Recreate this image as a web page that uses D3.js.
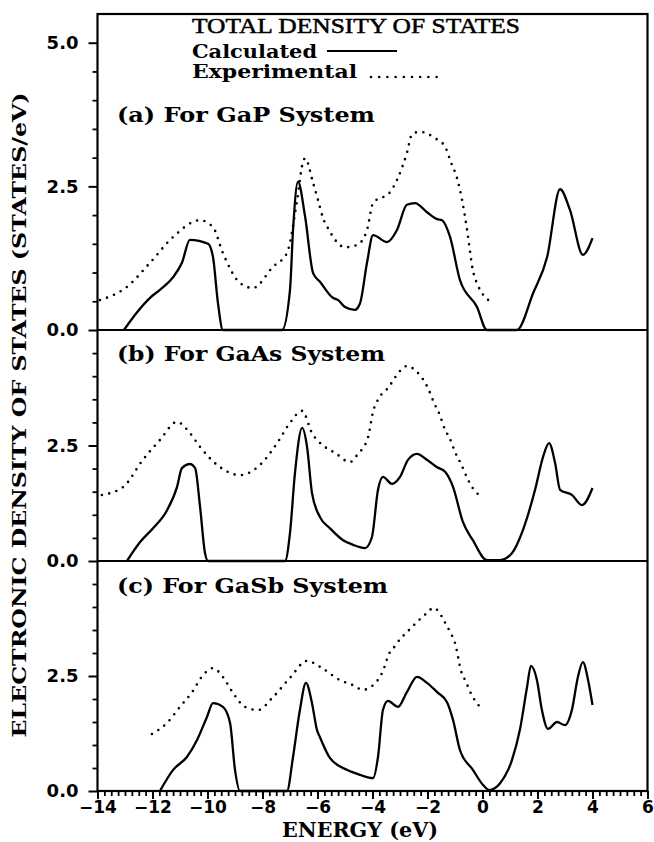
<!DOCTYPE html>
<html><head><meta charset="utf-8">
<script src="https://cdn.jsdelivr.net/npm/d3@7/dist/d3.min.js"></script>
<style>body{margin:0;background:#fff}svg{display:block}</style>
</head><body>
<svg id="chart" width="654" height="842"></svg>
<script>
// ---------------- DATA ----------------
const panelLabels = ["(a) For GaP System", "(b) For GaAs System", "(c) For GaSb System"];
const titleText = "TOTAL DENSITY OF STATES";
const legendCalc = "Calculated";
const legendExp = "Experimental";
const xTitle = "ENERGY (eV)";
const yTitle = "ELECTRONIC DENSITY OF STATES (STATES/eV)";
const xMajorTicks = [-14, -12, -10, -8, -6, -4, -2, 0, 2, 4, 6];
const yTicksA = [0, 2.5, 5.0];
const yTicksBC = [0, 2.5];

// GaP  [energy eV, DOS states/eV]
const gapCalc = [[-13.04,0],[-12.56,0.31],[-12.09,0.56],[-11.73,0.70],[-11.25,0.92],[-10.93,1.17],[-10.64,1.57],
  [-9.98,1.50],[-9.80,1.27],[-9.62,0.47],[-9.44,0],[-7.29,0],[-7.0,0.70],[-6.89,1.74],[-6.71,2.58],[-6.45,1.97],
  [-6.16,0.99],[-5.91,0.84],[-5.44,0.56],[-5.25,0.52],[-5.0,0.40],[-4.64,0.35],[-4.45,0.47],[-4.2,1.17],
  [-3.98,1.65],[-3.47,1.53],[-3.11,1.74],[-2.75,2.18],[-2.45,2.21],[-2.02,2.05],[-1.65,1.93],[-1.47,1.91],
  [-1.18,1.62],[-0.82,0.87],[-0.2,0.40],[0.16,0],[1.25,0],[1.84,0.64],[2.35,1.27],[2.82,2.45],[3.18,2.09],
  [3.65,1.31],[4.0,1.60]];
const gapExp = [[-13.91,0.52],[-12.93,0.75],[-12.09,1.17],[-11.25,1.62],[-10.27,1.91],[-9.80,1.79],[-9.44,1.34],
  [-8.82,0.82],[-8.35,0.73],[-7.62,1.10],[-7.11,1.34],[-6.75,2.23],[-6.53,2.92],[-6.45,2.99],[-6.16,2.56],
  [-5.98,2.26],[-5.8,1.95],[-5.58,1.74],[-5.36,1.57],[-5.0,1.44],[-4.56,1.48],[-4.2,1.74],[-3.98,2.21],
  [-3.36,2.40],[-3.11,2.61],[-2.75,3.08],[-2.56,3.41],[-2.27,3.45],[-1.73,3.34],[-1.36,3.19],[-1.15,2.92],
  [-0.93,2.65],[-0.75,2.28],[-0.56,1.74],[-0.35,1.04],[-0.16,0.77],[0.38,0.47]];

// GaAs
const gaasCalc = [[-12.93,0],[-12.45,0.41],[-11.98,0.71],[-11.47,1.10],[-11.11,1.60],[-10.93,2.01],[-10.64,2.10],
  [-10.45,2.01],[-10.27,1.17],[-10.09,0.17],[-9.98,0],[-7.18,0],[-7.0,0.61],[-6.82,1.90],[-6.56,2.88],[-6.38,2.47],
  [-6.2,1.47],[-5.91,0.95],[-5.55,0.71],[-5.07,0.45],[-4.71,0.35],[-4.27,0.28],[-4.02,0.52],[-3.8,1.54],
  [-3.62,1.82],[-3.29,1.67],[-3.0,1.82],[-2.71,2.19],[-2.38,2.32],[-2.02,2.19],[-1.65,2.03],[-1.36,1.93],
  [-1.07,1.60],[-0.71,0.84],[-0.35,0.45],[0.16,0.02],[0.64,0.02],[1.07,0.17],[1.47,0.67],[1.91,1.54],[2.2,2.25],
  [2.42,2.55],[2.64,2.12],[2.82,1.54],[3.25,1.43],[3.62,1.21],[4.0,1.58]];
const gaasExp = [[-13.84,1.43],[-13.07,1.60],[-12.35,2.19],[-11.73,2.62],[-11.11,3.01],[-10.64,2.77],[-10.27,2.47],
  [-9.65,2.08],[-8.82,1.86],[-8.09,2.08],[-7.47,2.55],[-7.0,2.99],[-6.56,3.25],[-6.2,2.77],[-5.73,2.47],
  [-5.36,2.34],[-4.82,2.14],[-4.56,2.29],[-4.38,2.42],[-4.16,2.68],[-3.98,3.23],[-3.76,3.53],[-3.4,3.77],
  [-3.15,4.0],[-2.75,4.22],[-2.38,4.09],[-1.98,3.74],[-1.76,3.42],[-1.58,3.2],[-1.36,2.84],[-1.18,2.64],
  [-1.0,2.36],[-0.78,2.10],[-0.56,1.80],[-0.38,1.60],[-0.2,1.47],[0.02,1.36]];

// GaSb
const gasbCalc = [[-11.73,0],[-11.25,0.46],[-10.75,0.74],[-10.38,1.11],[-10.02,1.61],[-9.8,1.91],[-9.44,1.83],
  [-9.18,1.48],[-9.0,0.46],[-8.82,0],[-7.11,0],[-6.89,0.74],[-6.64,1.76],[-6.42,2.35],[-6.2,1.91],[-6.02,1.33],
  [-5.91,1.17],[-5.55,0.72],[-4.93,0.46],[-4.45,0.35],[-3.98,0.28],[-3.8,0.74],[-3.62,1.76],[-3.44,1.96],
  [-3.07,1.83],[-2.75,2.15],[-2.38,2.48],[-2.02,2.35],[-1.65,2.15],[-1.29,1.93],[-1.07,1.54],[-0.82,0.89],
  [-0.35,0.46],[0.02,0.13],[0.24,0.02],[0.64,0.17],[1.07,0.67],[1.36,1.33],[1.62,2.26],[1.76,2.72],[1.98,2.41],
  [2.16,1.76],[2.38,1.35],[2.71,1.50],[3.0,1.43],[3.25,1.76],[3.47,2.48],[3.65,2.80],[3.84,2.41],[4.0,1.87]];
const gasbExp = [[-12.02,1.24],[-11.47,1.48],[-11.0,1.83],[-10.56,2.15],[-10.16,2.52],[-9.8,2.67],[-9.44,2.48],
  [-9.07,2.13],[-8.64,1.83],[-8.16,1.76],[-7.62,2.04],[-7.0,2.46],[-6.38,2.83],[-5.91,2.70],[-5.18,2.41],
  [-4.71,2.30],[-4.35,2.20],[-3.98,2.30],[-3.62,2.61],[-3.4,2.98],[-3.18,3.15],[-2.96,3.33],[-2.78,3.43],
  [-2.56,3.57],[-2.38,3.67],[-2.2,3.78],[-1.98,3.89],[-1.8,3.98],[-1.58,3.89],[-1.4,3.70],[-1.18,3.46],
  [-1.0,3.22],[-0.78,2.61],[-0.6,2.37],[-0.38,2.07],[-0.2,1.91],[0.02,1.74]];

// ---------------- LAYOUT ----------------
const svg = d3.select("#chart");
const L = 97.5, R = 647.5;
const x = d3.scaleLinear().domain([-14, 6]).range([L, R]);
const panels = [
  {top: 14,  bottom: 330, max: 5.5, calc: gapCalc,  exp: gapExp,  ticks: yTicksA,  labelY: 122},
  {top: 330, bottom: 561, max: 5.0, calc: gaasCalc, exp: gaasExp, ticks: yTicksBC, labelY: 361},
  {top: 561, bottom: 791, max: 5.0, calc: gasbCalc, exp: gasbExp, ticks: yTicksBC, labelY: 593}
];
const labelLens = [258, 268, 271];
const serif = "'DejaVu Serif', 'Liberation Serif', serif";
const sans = "'DejaVu Sans', 'Liberation Sans', sans-serif";

panels.forEach((p, i) => {
  const y = d3.scaleLinear().domain([0, p.max]).range([p.bottom, p.top]);
  const minor = d3.range(0.5, p.max - 0.01, 0.5).filter(v => !p.ticks.includes(v));
  const gMin = svg.append("g").attr("transform", `translate(${L},0)`)
    .call(d3.axisLeft(y).tickValues(minor).tickSize(5).tickFormat(""));
  gMin.select(".domain").remove();
  gMin.selectAll("line").attr("stroke", "#000").attr("stroke-width", 1.8);
  const gMaj = svg.append("g").attr("transform", `translate(${L},0)`)
    .call(d3.axisLeft(y).tickValues(p.ticks).tickSize(9).tickPadding(10).tickFormat(d3.format(".1f")));
  gMaj.select(".domain").remove();
  gMaj.selectAll("line").attr("stroke", "#000").attr("stroke-width", 2);
  gMaj.selectAll("text").attr("font-family", sans).attr("font-weight", "bold")
    .attr("font-size", 18).attr("fill", "#000");

  const line = d3.line().x(d => x(d[0])).y(d => y(d[1])).curve(d3.curveMonotoneX);
  svg.append("path").datum(p.exp).attr("d", line).attr("fill", "none")
    .attr("stroke", "#000").attr("stroke-width", 2.6).attr("stroke-linecap", "round")
    .attr("stroke-dasharray", "0 7.5");
  svg.append("path").datum(p.calc).attr("d", line).attr("fill", "none")
    .attr("stroke", "#000").attr("stroke-width", 2.3).attr("stroke-linejoin", "round");

  svg.append("text").attr("x", 117).attr("y", p.labelY).text(panelLabels[i])
    .attr("font-family", serif).attr("font-weight", "bold").attr("font-size", 20)
    .attr("textLength", labelLens[i]).attr("lengthAdjust", "spacingAndGlyphs");

  svg.append("line").attr("x1", L).attr("x2", R).attr("y1", y(0)).attr("y2", y(0))
    .attr("stroke", "#000").attr("stroke-width", 2.2);
});

// bottom x axis
const xMinor = d3.range(-14, 6.001, 0.25).filter(v => !xMajorTicks.includes(v));
const gxm = svg.append("g").attr("transform", "translate(0,791)")
  .call(d3.axisBottom(x).tickValues(xMinor).tickSize(5).tickFormat(""));
gxm.select(".domain").remove();
gxm.selectAll("line").attr("stroke", "#000").attr("stroke-width", 1.8);
const gx = svg.append("g").attr("transform", "translate(0,791)")
  .call(d3.axisBottom(x).tickValues(xMajorTicks).tickSize(8).tickPadding(2)
    .tickFormat(d => (d < 0 ? "\u2212" + Math.abs(d) : String(d))));
gx.select(".domain").remove();
gx.selectAll("line").attr("stroke", "#000").attr("stroke-width", 2);
gx.selectAll("text").attr("font-family", sans).attr("font-weight", "bold")
  .attr("font-size", 17).attr("fill", "#000");

// frame
svg.append("rect").attr("x", L).attr("y", 14).attr("width", R - L).attr("height", 791 - 14)
  .attr("fill", "none").attr("stroke", "#000").attr("stroke-width", 2.2);

// title and legend
svg.append("text").attr("x", 192).attr("y", 33).text(titleText)
  .attr("font-family", "'Liberation Serif', serif").attr("font-size", 22)
  .attr("stroke", "#000").attr("stroke-width", 0.5)
  .attr("textLength", 328).attr("lengthAdjust", "spacingAndGlyphs");
svg.append("text").attr("x", 192).attr("y", 58).text(legendCalc)
  .attr("font-family", serif).attr("font-weight", "bold").attr("font-size", 19)
  .attr("textLength", 125).attr("lengthAdjust", "spacingAndGlyphs");
svg.append("text").attr("x", 192).attr("y", 78).text(legendExp)
  .attr("font-family", serif).attr("font-weight", "bold").attr("font-size", 19)
  .attr("textLength", 165).attr("lengthAdjust", "spacingAndGlyphs");
svg.append("line").attr("x1", 327).attr("x2", 397).attr("y1", 51).attr("y2", 51)
  .attr("stroke", "#000").attr("stroke-width", 2.2);
svg.append("line").attr("x1", 371).attr("x2", 437).attr("y1", 77).attr("y2", 77)
  .attr("stroke", "#000").attr("stroke-width", 2.6).attr("stroke-linecap", "round")
  .attr("stroke-dasharray", "0 8.2");

// axis titles
svg.append("text").attr("x", 360).attr("y", 837).attr("text-anchor", "middle").text(xTitle)
  .attr("font-family", serif).attr("font-weight", "bold").attr("font-size", 21)
  .attr("textLength", 156).attr("lengthAdjust", "spacingAndGlyphs");
svg.append("text").attr("transform", "translate(26,415) rotate(-90)").attr("text-anchor", "middle")
  .text(yTitle).attr("font-family", serif).attr("font-weight", "bold").attr("font-size", 19)
  .attr("textLength", 645).attr("lengthAdjust", "spacingAndGlyphs");
</script>
</body></html>
